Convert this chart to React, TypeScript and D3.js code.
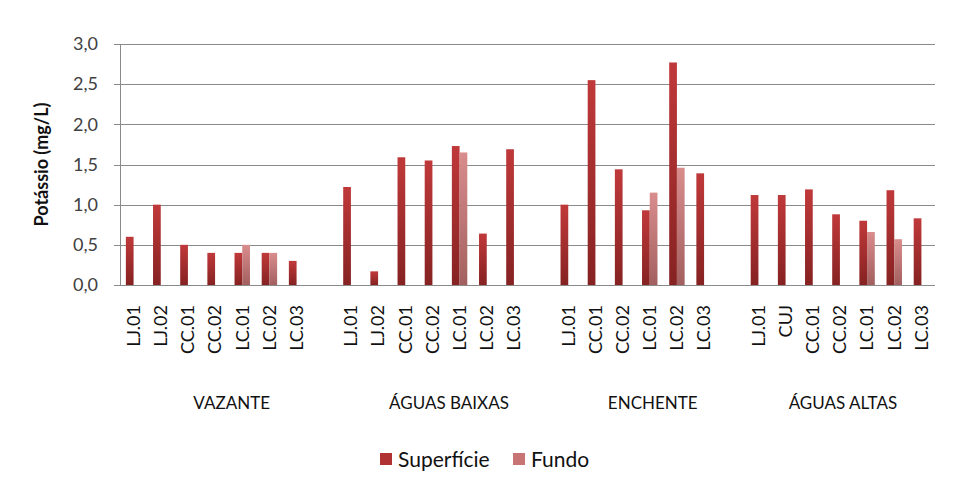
import React, { useEffect, useRef } from 'react';
import * as d3 from 'd3';

// períodos hidrológicos e pontos de coleta
const periods = ['VAZANTE', 'ÁGUAS BAIXAS', 'ENCHENTE', 'ÁGUAS ALTAS'];
const vazanteSites = ['LJ.01', 'LJ.02', 'CC.01', 'CC.02', 'LC.01', 'LC.02', 'LC.03'];
const baixasSites = ['LJ.01', 'LJ.02', 'CC.01', 'CC.02', 'LC.01', 'LC.02', 'LC.03'];
const enchenteSites = ['LJ.01', 'CC.01', 'CC.02', 'LC.01', 'LC.02', 'LC.03'];
const altasSites = ['LJ.01', 'CUJ', 'CC.01', 'CC.02', 'LC.01', 'LC.02', 'LC.03'];

// Potássio (mg/L) - superfície
const vazanteSup = [0.6, 1.0, 0.5, 0.4, 0.4, 0.4, 0.3];
const baixasSup = [1.22, 0.17, 1.59, 1.55, 1.73, 0.64, 1.69];
const enchenteSup = [1.0, 2.55, 1.44, 0.93, 2.77, 1.39];
const altasSup = [1.12, 1.12, 1.19, 0.88, 0.8, 1.18, 0.83];

// Potássio (mg/L) - fundo
const vazanteFundo = [null, null, null, null, 0.5, 0.4, null];
const baixasFundo = [null, null, null, null, 1.65, null, null];
const enchenteFundo = [null, null, null, 1.15, 1.46, null];
const altasFundo = [null, null, null, null, 0.66, 0.57, null];

const yTicks = [0, 0.5, 1.0, 1.5, 2.0, 2.5, 3.0];
const series = ['Superfície', 'Fundo'];

const sitesByPeriod = [vazanteSites, baixasSites, enchenteSites, altasSites];
const supByPeriod = [vazanteSup, baixasSup, enchenteSup, altasSup];
const fundoByPeriod = [vazanteFundo, baixasFundo, enchenteFundo, altasFundo];

export default function App() {
  const svgRef = useRef<SVGSVGElement>(null);
  const width = 960;
  const height = 478;
  const margin = { top: 44, right: 25, bottom: 193, left: 120 };
  const font = 'Lato, "Open Sans", sans-serif';

  useEffect(() => {
    const svg = d3.select(svgRef.current);
    svg.selectAll('*').remove();

    // uma categoria vazia no fim de cada período
    const slots: { key: string; period: number; site: string; sup: number | null; fundo: number | null }[] = [];
    periods.forEach((p, pi) => {
      sitesByPeriod[pi].forEach((s, si) => {
        slots.push({ key: `${p}|${s}|${si}`, period: pi, site: s, sup: supByPeriod[pi][si], fundo: fundoByPeriod[pi][si] });
      });
      if (pi < periods.length - 1) slots.push({ key: `${p}|blank`, period: pi, site: '', sup: null, fundo: null });
    });

    const x0 = d3
      .scaleBand()
      .domain(slots.map((d) => d.key))
      .range([margin.left, width - margin.right])
      .padding(0);

    const x1 = d3
      .scaleBand()
      .domain(series)
      .range([0, x0.bandwidth()])
      .paddingInner(0)
      .paddingOuter(0.76);

    const y = d3
      .scaleLinear()
      .domain([0, 3])
      .range([height - margin.bottom, margin.top]);

    const defs = svg.append('defs');
    const grads = [
      { id: 'gSup', top: '#c0393a', bottom: '#862222' },
      { id: 'gFundo', top: '#d98d8d', bottom: '#a35f5f' },
    ];
    grads.forEach((g) => {
      const lg = defs.append('linearGradient').attr('id', g.id).attr('x1', 0).attr('y1', 0).attr('x2', 0).attr('y2', 1);
      lg.append('stop').attr('offset', '0%').attr('stop-color', g.top);
      lg.append('stop').attr('offset', '100%').attr('stop-color', g.bottom);
    });

    // linhas de grade
    svg
      .append('g')
      .selectAll('line')
      .data(yTicks)
      .enter()
      .append('line')
      .attr('x1', margin.left - 6)
      .attr('x2', width - margin.right)
      .attr('y1', (d) => Math.round(y(d)) + 0.5)
      .attr('y2', (d) => Math.round(y(d)) + 0.5)
      .attr('stroke', '#8a8a8a')
      .attr('stroke-width', 1);

    // eixo vertical
    svg
      .append('line')
      .attr('x1', margin.left + 0.5)
      .attr('x2', margin.left + 0.5)
      .attr('y1', y(3))
      .attr('y2', y(0))
      .attr('stroke', '#8a8a8a');

    // rótulos do eixo y
    svg
      .append('g')
      .selectAll('text')
      .data(yTicks)
      .enter()
      .append('text')
      .attr('x', margin.left - 22)
      .attr('y', (d) => y(d))
      .attr('dy', '0.35em')
      .attr('text-anchor', 'end')
      .attr('font-family', font)
      .attr('font-size', 18)
      .attr('fill', '#404040')
      .text((d) => d.toFixed(1).replace('.', ','));

    // barras
    const bars = svg.append('g');
    slots.forEach((d) => {
      const vals: [string, number | null, string][] = [
        ['Superfície', d.sup, 'url(#gSup)'],
        ['Fundo', d.fundo, 'url(#gFundo)'],
      ];
      vals.forEach(([s, v, fill]) => {
        if (v == null) return;
        bars
          .append('rect')
          .attr('x', (x0(d.key) as number) + (x1(s) as number))
          .attr('y', y(v))
          .attr('width', x1.bandwidth())
          .attr('height', y(0) - y(v))
          .attr('fill', fill);
      });
    });

    // rótulos das categorias (rotacionados)
    svg
      .append('g')
      .selectAll('text')
      .data(slots.filter((d) => d.site !== ''))
      .enter()
      .append('text')
      .attr('transform', (d) => `translate(${(x0(d.key) as number) + x0.bandwidth() / 2},305) rotate(-90)`)
      .attr('dy', '0.35em')
      .attr('text-anchor', 'end')
      .attr('font-family', font)
      .attr('font-size', 18)
      .attr('fill', '#111')
      .text((d) => d.site);

    // rótulos dos períodos
    svg
      .append('g')
      .selectAll('text')
      .data(periods)
      .enter()
      .append('text')
      .attr('x', (_, pi) => {
        const keys = slots.filter((d) => d.period === pi).map((d) => d.key);
        const start = x0(keys[0]) as number;
        const end = (x0(keys[keys.length - 1]) as number) + x0.bandwidth();
        return (start + end) / 2 + 3;
      })
      .attr('y', 409)
      .attr('text-anchor', 'middle')
      .attr('font-family', font)
      .attr('font-size', 17)
      .attr('fill', '#111')
      .text((d) => d);

    // título do eixo y
    svg
      .append('text')
      .attr('transform', `translate(42,${(y(0) + y(3)) / 2}) rotate(-90)`)
      .attr('dy', '0.35em')
      .attr('text-anchor', 'middle')
      .attr('font-family', font)
      .attr('font-size', 18)
      .attr('font-weight', 'bold')
      .attr('fill', '#111')
      .text('Potássio (mg/L)');

    // legenda
    const legend = svg.append('g');
    const legendItems = [
      { label: 'Superfície', color: '#b03232', x: 380 },
      { label: 'Fundo', color: '#c87474', x: 513 },
    ];
    legendItems.forEach((it) => {
      legend.append('rect').attr('x', it.x).attr('y', 453).attr('width', 12).attr('height', 12).attr('fill', it.color);
      legend
        .append('text')
        .attr('x', it.x + 18)
        .attr('y', 460)
        .attr('dy', '0.35em')
        .attr('font-family', font)
        .attr('font-size', 21)
        .attr('fill', '#111')
        .text(it.label);
    });
  }, []);

  return (
    <svg
      ref={svgRef}
      width={width}
      height={height}
      style={{ position: 'absolute', left: 0, top: 0, background: '#fff' }}
    />
  );
}
